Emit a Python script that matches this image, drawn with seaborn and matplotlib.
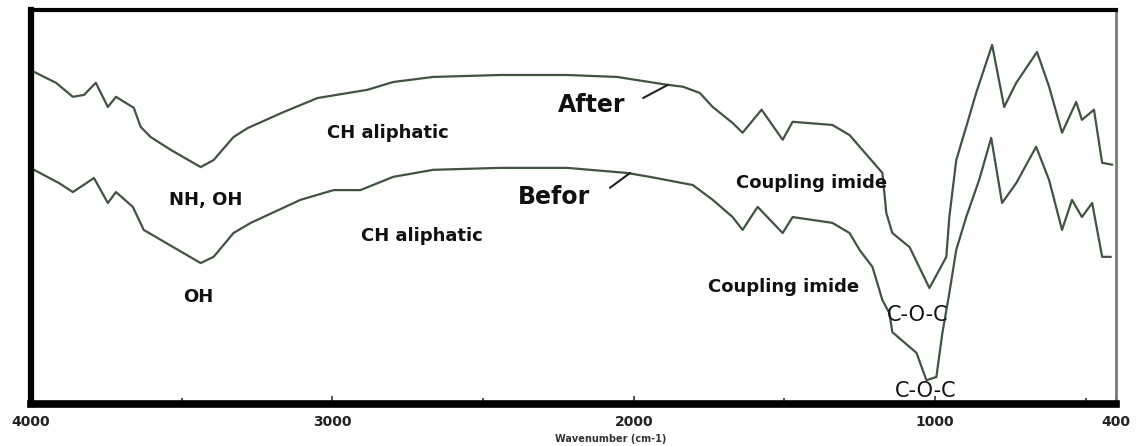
import matplotlib
matplotlib.use("Agg")
import matplotlib.pyplot as plt
import seaborn as sns
import pandas as pd

# ---- data ----
after_wn = [3990, 3917, 3861, 3824, 3785, 3745, 3718, 3659, 3636, 3603, 3536, 3437, 3394,
            3328, 3281, 3162, 3049, 2884, 2798, 2665, 2443, 2222, 2056, 1890, 1837, 1781, 1738,
            1672, 1639, 1576, 1506, 1473, 1341, 1284, 1175, 1162, 1142, 1085, 1019, 963,
            953, 930, 897, 864, 811, 771, 731, 662, 622, 579, 532, 513, 473, 446, 412]
after_t = [84.1, 81.3, 77.7, 78.2, 81.3, 75.1, 77.7, 74.9, 70.0, 67.4, 64.1, 59.7, 61.5,
           67.4, 69.7, 73.8, 77.4, 79.5, 81.5, 82.8, 83.3, 83.3, 82.8, 80.8, 80.3, 78.7, 75.1,
           71.0, 68.5, 74.4, 66.7, 71.3, 70.5, 67.9, 58.2, 47.9, 42.8, 39.2, 28.7, 36.7,
           46.9, 61.5, 70.0, 78.7, 91.0, 75.1, 81.3, 89.2, 80.3, 68.5, 76.4, 71.8, 74.4,
           60.8, 60.3]

before_wn = [3990, 3907, 3861, 3791, 3745, 3718, 3662, 3626, 3437, 3394, 3328, 3271, 3106,
             2996, 2907, 2798, 2665, 2443, 2222, 2023, 1947, 1804, 1738, 1672, 1639, 1589, 1506,
             1473, 1341, 1284, 1251, 1208, 1175, 1152, 1142, 1062, 1029, 996, 976, 953,
             930, 897, 854, 814, 778, 731, 665, 622, 579, 546, 513, 479, 446, 417]
before_t = [59.0, 55.6, 53.3, 56.9, 50.5, 53.3, 49.5, 43.6, 35.1, 36.7, 42.8, 45.4, 51.3,
            53.8, 53.8, 57.2, 59.0, 59.5, 59.5, 58.2, 57.2, 55.1, 51.3, 46.9, 43.6, 49.5, 42.8,
            46.9, 45.4, 42.8, 38.5, 34.1, 25.6, 22.3, 17.4, 12.1, 5.1, 5.9, 17.2, 27.4,
            38.5, 46.9, 56.4, 67.2, 50.5, 55.6, 64.9, 56.4, 43.6, 51.3, 46.9, 50.5, 36.7,
            36.7]

major_ticks = [4000, 3000, 2000, 1000, 400]
tick_labels = ["4000", "3000", "2000", "1000", "400"]
minor_ticks = [3500, 2500, 1500, 500]
x_label = "Wavenumber (cm-1)"

# annotations: text, wavenumber, transmittance
labels_small = [("CH aliphatic", 2815, 68.5), ("NH, OH", 3419, 51.3),
                ("CH aliphatic", 2703, 42.1), ("OH", 3446, 26.4),
                ("Coupling imide", 1409, 55.6), ("Coupling imide", 1502, 29.0)]
labels_coc = [("C-O-C", 1057, 21.8), ("C-O-C", 1030, 2.3)]
labels_big = [("After", 2139, 75.6, (1969, 77.4), (1886, 80.8)),
              ("Befor", 2265, 52.1, (2079, 54.4), (2012, 58.2))]

df = pd.concat([
    pd.DataFrame({"wn": after_wn, "T": after_t, "series": "After"}),
    pd.DataFrame({"wn": before_wn, "T": before_t, "series": "Befor"}),
])

sns.set_theme(style="white")
plt.rcParams["font.family"] = ["DejaVu Sans"]

fig = plt.figure(figsize=(11.39, 4.46), dpi=100)
ax = fig.add_axes([0.0272, 0.094, 0.9526, 0.884])

line_color = "#3f553f"
sns.lineplot(data=df, x="wn", y="T", units="series", estimator=None, sort=False,
             color=line_color, linewidth=1.6, ax=ax, legend=False)

ax.set_xlim(4000, 400)
ax.set_ylim(-1.03, 100)
ax.set_yticks([])
ax.set_xticks(major_ticks)
ax.set_xticklabels(tick_labels, fontsize=10, fontweight="bold", color="#222222")
ax.set_xticks(minor_ticks, minor=True)
ax.tick_params(axis="x", which="both", direction="in", length=6, width=1.2,
               color="#333333", pad=8, bottom=True)
ax.tick_params(axis="x", which="minor", length=4)
ax.set_xlabel(x_label, fontsize=7, fontweight="bold", color="#333333")
ax.xaxis.set_label_coords(0.534, -0.075)
ax.set_ylabel("")

for s, lw, c in [("left", 4.5, "black"), ("bottom", 5.5, "black"),
                 ("top", 3.0, "black"), ("right", 2.0, "#7a7a7a")]:
    ax.spines[s].set_visible(True)
    ax.spines[s].set_linewidth(lw)
    ax.spines[s].set_color(c)

for txt, x, y in labels_small:
    ax.text(x, y, txt, fontsize=13, fontweight="bold", ha="center", va="center",
            color="#111111")
for txt, x, y in labels_coc:
    ax.text(x, y, txt, fontsize=15, ha="center", va="center", color="#111111")
for txt, x, y, p0, p1 in labels_big:
    ax.text(x, y, txt, fontsize=17, fontweight="bold", ha="center", va="center",
            color="#111111")
    ax.plot([p0[0], p1[0]], [p0[1], p1[1]], color="#222222", linewidth=1.5)

fig.savefig("out.png", dpi=100)
